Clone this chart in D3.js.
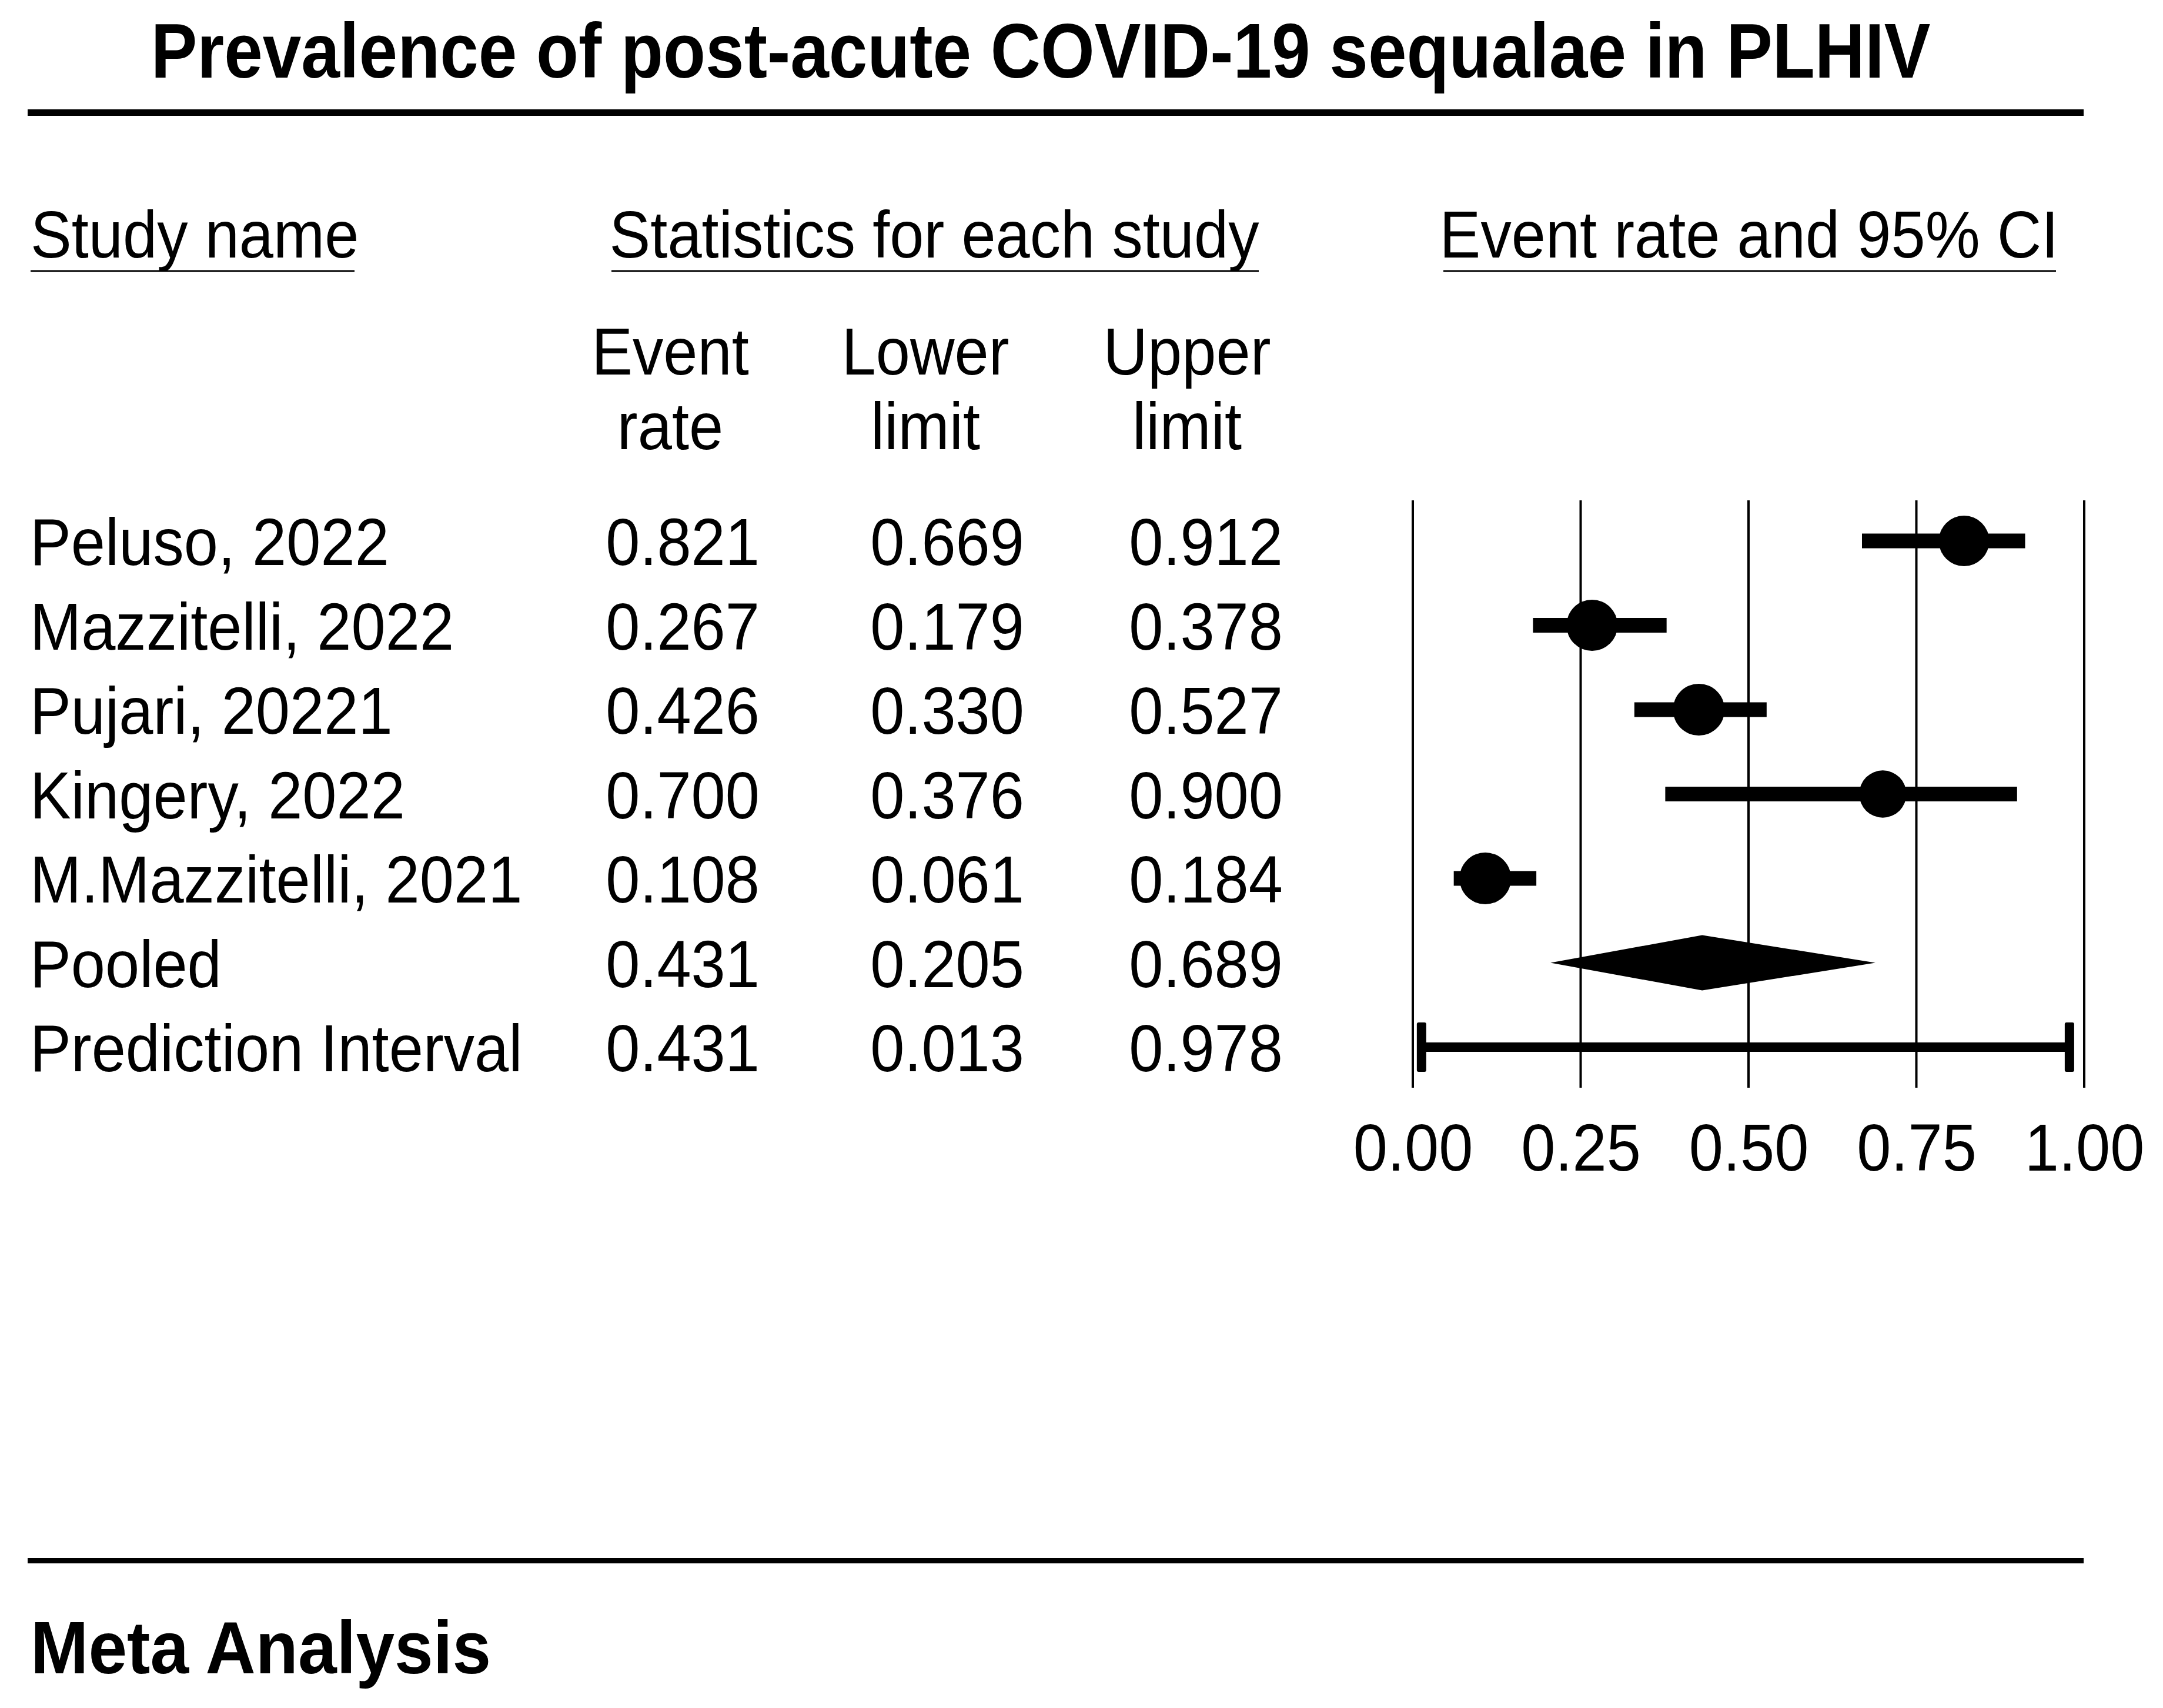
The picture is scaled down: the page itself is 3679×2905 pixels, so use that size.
<!DOCTYPE html>
<html>
<head>
<meta charset="utf-8">
<script src="https://cdnjs.cloudflare.com/ajax/libs/d3/7.8.5/d3.min.js"></script>
<style>
  body { margin: 0; background: #fff; }
  svg { display: block; }
  text { font-family: "Liberation Sans", Arial, sans-serif; fill: #000; }
</style>
</head>
<body>
<svg id="chart"></svg>
<script>
// data
let chartTitle = "Prevalence of post-acute COVID-19 sequalae in PLHIV";
let footerText = "Meta Analysis";
let groupHeaders = ["Study name", "Statistics for each study", "Event rate and 95% CI"];
let columnHeaders = [["Event", "rate"], ["Lower", "limit"], ["Upper", "limit"]];

let studyNames = ["Peluso, 2022", "Mazzitelli, 2022", "Pujari, 20221", "Kingery, 2022", "M.Mazzitelli, 2021"];
let eventRate = [0.821, 0.267, 0.426, 0.700, 0.108];
let lowerLimit = [0.669, 0.179, 0.330, 0.376, 0.061];
let upperLimit = [0.912, 0.378, 0.527, 0.900, 0.184];
let studyWeight = [20.0, 20.5, 21.0, 17.5, 21.0]; // relative weight

let summaryNames = ["Pooled", "Prediction Interval"];
let summaryRate = [0.431, 0.431];
let summaryLower = [0.205, 0.013];
let summaryUpper = [0.689, 0.978];

let xTicks = [0, 0.25, 0.50, 0.75, 1.00];

let W = 3679, H = 2905;
let svg = d3.select('#chart')
    .attr("width", W)
    .attr("height", H);

let fmt = d3.format(".3f");
let sx = 0.918; // the source font is a bit narrower than Arial

function addText(str, x, y, size, anchor, weight, squeeze) {
    return svg.append("text")
        .attr("transform", "translate(" + x + "," + y + ") scale(" + (squeeze || sx) + ",1)")
        .attr("text-anchor", anchor || "start")
        .attr("font-size", size)
        .attr("font-weight", weight || "normal")
        .text(str);
}

// title + rules
addText(chartTitle, 1770, 132, 131, "middle", "bold", 0.90);
svg.append("rect").attr("x", 47).attr("y", 186).attr("width", 3544 - 47).attr("height", 11);
svg.append("rect").attr("x", 47).attr("y", 2650).attr("width", 3544 - 47).attr("height", 9);
addText(footerText, 52, 2846, 127, "start", "bold", 0.93);

// group headers with underlines
let headerPos = [{x: 52, anchor: "start", x0: 52, x1: 603},
                 {x: 1589, anchor: "middle", x0: 1040, x1: 2141},
                 {x: 2975, anchor: "middle", x0: 2455, x1: 3497}];
groupHeaders.forEach(function (h, i) {
    addText(h, headerPos[i].x, 438, 114, headerPos[i].anchor);
    svg.append("line")
        .attr("x1", headerPos[i].x0).attr("x2", headerPos[i].x1)
        .attr("y1", 461).attr("y2", 461)
        .attr("stroke", "#000").attr("stroke-width", 3);
});

let colCenters = [1140, 1574, 2019];
let colRight = [1292, 1742, 2182];
columnHeaders.forEach(function (c, i) {
    addText(c[0], colCenters[i], 637, 114, "middle");
    addText(c[1], colCenters[i], 764, 114, "middle");
});

// rows
let allNames = studyNames.concat(summaryNames);
let allRate = eventRate.concat(summaryRate);
let allLower = lowerLimit.concat(summaryLower);
let allUpper = upperLimit.concat(summaryUpper);

let y = d3.scaleLinear().domain([0, allNames.length - 1]).range([920, 1781]);
let x = d3.scaleLinear().domain([0, 1]).range([2403, 3545]);
let r = d3.scaleSqrt().domain([0, 21]).range([0, 44]);

allNames.forEach(function (name, i) {
    let base = y(i) + 41;
    addText(name, 51, base, 114, "start");
    addText(fmt(allRate[i]), colRight[0], base, 114, "end");
    addText(fmt(allLower[i]), colRight[1], base, 114, "end");
    addText(fmt(allUpper[i]), colRight[2], base, 114, "end");
});

// grid
svg.append("g").selectAll("line")
    .data(xTicks)
    .enter()
    .append("line")
    .attr("x1", function (d) { return x(d); })
    .attr("x2", function (d) { return x(d); })
    .attr("y1", 851)
    .attr("y2", 1850)
    .attr("stroke", "#000")
    .attr("stroke-width", 4);

// tick labels
let axis = svg.append("g")
    .attr("transform", "translate(0,1991)")
    .call(d3.axisBottom(x).tickValues(xTicks).tickFormat(d3.format(".2f")).tickSize(0));
axis.select(".domain").remove();
axis.selectAll("text")
    .attr("y", 0)
    .attr("dy", 0)
    .attr("font-size", 114)
    .attr("font-family", "Liberation Sans, Arial, sans-serif")
    .attr("fill", "#000")
    .attr("transform", "scale(" + sx + ",1)");

// study CIs and markers
let idx = d3.range(studyNames.length);
svg.append("g").selectAll("line")
    .data(idx)
    .enter()
    .append("line")
    .attr("x1", function (i) { return x(lowerLimit[i]); })
    .attr("x2", function (i) { return x(upperLimit[i]); })
    .attr("y1", function (i) { return y(i); })
    .attr("y2", function (i) { return y(i); })
    .attr("stroke", "#000")
    .attr("stroke-width", 25);

svg.append("g").selectAll("circle")
    .data(idx)
    .enter()
    .append("circle")
    .attr("cx", function (i) { return x(eventRate[i]); })
    .attr("cy", function (i) { return y(i); })
    .attr("r", function (i) { return r(studyWeight[i]); })
    .attr("fill", "#000");

// pooled diamond
let pi = studyNames.length;
let yc = y(pi);
svg.append("path")
    .attr("d", d3.line()([
        [x(summaryLower[0]), yc],
        [x(summaryRate[0]), yc - 47],
        [x(summaryUpper[0]), yc],
        [x(summaryRate[0]), yc + 47]
    ]) + "Z")
    .attr("fill", "#000");

// prediction interval
let yp = y(pi + 1);
svg.append("line")
    .attr("x1", x(summaryLower[1])).attr("x2", x(summaryUpper[1]))
    .attr("y1", yp).attr("y2", yp)
    .attr("stroke", "#000").attr("stroke-width", 16);
svg.append("g").selectAll("rect")
    .data([summaryLower[1], summaryUpper[1]])
    .enter()
    .append("rect")
    .attr("x", function (d) { return x(d) - 8; })
    .attr("y", yp - 42)
    .attr("width", 16)
    .attr("height", 84)
    .attr("rx", 3)
    .attr("fill", "#000");
</script>
</body>
</html>
